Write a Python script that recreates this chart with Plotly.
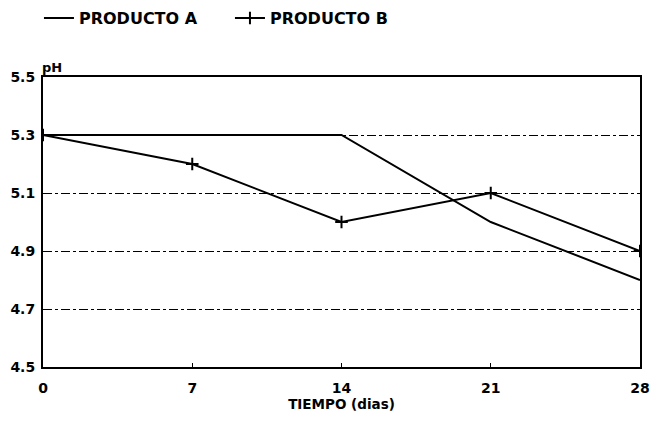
import plotly.graph_objects as go

dias = [0, 7, 14, 21, 28]
ph_a = [5.3, 5.3, 5.3, 5.0, 4.8]
ph_b = [5.3, 5.2, 5.0, 5.1, 4.9]
y_ticks = [4.5, 4.7, 4.9, 5.1, 5.3, 5.5]

FONT = "DejaVu Sans"

fig = go.Figure()
fig.add_trace(go.Scatter(
    x=dias, y=ph_a, mode="lines", name="<b>PRODUCTO A</b>",
    line=dict(color="black", width=2),
))
fig.add_trace(go.Scatter(
    x=dias, y=ph_b, mode="lines+markers", name="<b>PRODUCTO B</b>",
    line=dict(color="black", width=2),
    marker=dict(symbol="cross-thin", size=9, line=dict(color="black", width=2)),
))

# page body has an 8px margin, so the figure is drawn at (8, 8)
fig.update_layout(
    width=645, height=405,
    margin=dict(l=35, r=13, t=69, b=46),
    paper_bgcolor="white", plot_bgcolor="white",
    font=dict(family=FONT, color="black", size=14),
    showlegend=True,
    legend=dict(orientation="h", xref="container", yref="container",
                x=0.048, y=0.975, yanchor="middle", xanchor="left",
                font=dict(size=16, family=FONT), entrywidth=146,
                tracegroupgap=0, bgcolor="rgba(0,0,0,0)"),
    xaxis=dict(
        range=[0, 28], tickvals=dias, ticktext=[f"<b>{d}</b>" for d in dias],
        showgrid=False, zeroline=False, automargin=False,
        showline=True, linecolor="black", linewidth=2, mirror=True,
        ticks="inside", ticklen=4, tickcolor="black",
        title=dict(text="<b>TIEMPO (dias)</b>", font=dict(size=13.5), standoff=2),
        tickfont=dict(size=14), ticklabelstandoff=7,
    ),
    yaxis=dict(
        range=[4.5, 5.5], tickvals=y_ticks,
        ticktext=[f"<b>{v:.1f}</b>" for v in y_ticks],
        showgrid=True, gridcolor="black", gridwidth=1, griddash="dashdot",
        zeroline=False, automargin=False,
        showline=True, linecolor="black", linewidth=2, mirror=True,
        ticks="", tickfont=dict(size=14), ticklabelstandoff=3,
    ),
    annotations=[dict(
        text="<b>pH</b>", xref="paper", yref="paper", x=0, y=1.0,
        xanchor="left", yanchor="bottom", showarrow=False,
        font=dict(size=13, family=FONT), xshift=-3, yshift=0,
    )],
)

fig.write_html("out.html")
